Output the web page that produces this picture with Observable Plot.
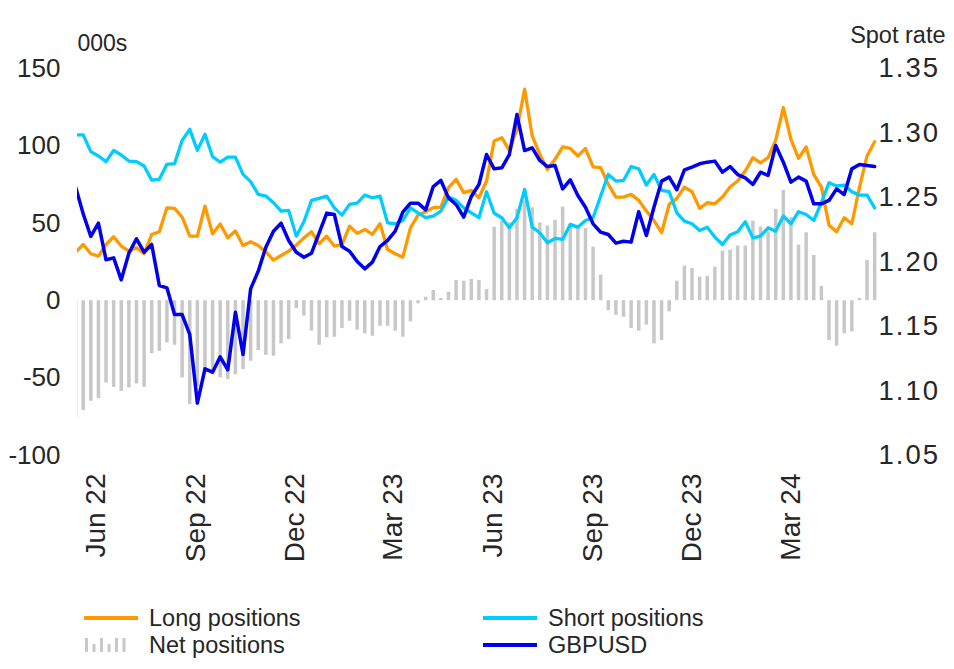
<!DOCTYPE html>
<html>
<head>
<meta charset="utf-8">
<script src="https://cdn.jsdelivr.net/npm/d3@7"></script>
<script src="https://cdn.jsdelivr.net/npm/@observablehq/plot@0.6"></script>
<style>
  body { margin: 0; background: #fff; font-family: "Liberation Sans", Arial, sans-serif; color: #262626; }
  #wrap { position: relative; width: 954px; height: 669px; }
  #legend { position: absolute; left: 0; top: 600px; width: 954px; height: 69px; font-size: 23.5px; }
  .item { position: absolute; display: flex; align-items: center; height: 27px; line-height: 27px; white-space: nowrap; }
  .sw { display: inline-block; width: 54px; height: 3.5px; margin-right: 11px; }
</style>
</head>
<body>
<div id="wrap">
  <div id="chart"></div>
  <div id="legend"></div>
</div>
<script>
// Weekly CFTC-style data; the first entry is a lead-in week that lies left of the frame (clipped)
const firstWeek = "2022-05-13";

// Long positions (000s)
const longPos = [31.2,
  36.3, 30.3, 28.8, 36.3, 41.3, 35.3, 32.0, 34.2, 30.3, 42.8,
  44.5, 60.0, 59.6, 54.0, 41.7, 41.7, 61.1, 43.2, 49.5, 40.6,
  45.0, 35.7, 38.1, 35.7, 31.6, 26.2, 29.2, 32.0, 35.9, 40.6,
  44.5, 36.8, 41.7, 35.3, 36.3, 48.2, 43.5, 46.0, 42.8, 49.7,
  33.1, 30.3, 28.1, 47.1, 55.3, 57.5, 60.1, 60.5, 73.0, 78.4,
  69.8, 71.3, 66.5, 77.3, 103.2, 105.3, 97.1, 110.7, 136.6, 106.4,
  94.5, 84.8, 91.3, 99.3, 98.4, 93.5, 98.4, 86.4, 86.0, 75.1,
  66.9, 66.9, 68.7, 64.8, 57.9, 51.8, 43.9, 62.2, 66.1, 73.4,
  70.4, 59.6, 63.3, 62.6, 67.0, 73.4, 77.3, 83.8, 92.4, 89.1,
  92.4, 103.7, 124.7, 104.2, 92.0, 99.3, 81.6, 73.4, 48.8, 44.5,
  53.6, 49.7, 73.0, 93.5, 102.7];

// Short positions (000s)
const shortPos = [107.1,
  107.1, 96.3, 93.5, 89.8, 97.1, 94.1, 90.2, 89.8, 87.0, 77.9,
  78.4, 88.1, 88.5, 103.6, 110.7, 97.1, 107.5, 93.0, 89.5, 92.8,
  92.8, 81.6, 76.9, 68.7, 67.6, 63.3, 57.9, 58.3, 41.7, 51.0,
  64.8, 66.1, 67.6, 60.0, 55.3, 62.2, 63.0, 68.2, 66.5, 67.6,
  50.3, 49.7, 51.8, 60.0, 56.8, 53.6, 54.7, 57.9, 66.9, 64.8,
  60.0, 56.8, 53.6, 70.4, 56.5, 53.6, 47.1, 53.6, 71.9, 47.5,
  43.9, 37.4, 40.2, 39.6, 49.3, 47.5, 51.8, 53.6, 67.6, 81.6,
  77.3, 77.7, 86.7, 85.2, 74.7, 81.6, 71.3, 70.4, 56.8, 51.4,
  49.7, 45.4, 47.5, 41.1, 36.3, 42.4, 44.5, 51.0, 40.6, 41.7,
  47.1, 44.8, 54.7, 49.7, 57.5, 55.7, 51.8, 63.3, 76.2, 74.1,
  74.7, 70.4, 68.2, 68.2, 60.0];

// Net positions (000s)
const netPos = [-76.0,
  -71.0, -65.0, -63.3, -53.2, -56.0, -58.5, -56.4, -53.8, -56.0, -34.2,
  -32.7, -27.3, -28.8, -49.9, -67.2, -55.4, -46.4, -47.5, -49.9, -51.0,
  -47.8, -44.5, -39.1, -32.2, -35.3, -35.9, -27.9, -25.1, -5.1, -10.0,
  -19.7, -28.8, -24.0, -23.6, -18.0, -13.3, -19.0, -21.4, -23.0, -16.5,
  -16.5, -19.7, -23.6, -13.7, -2.0, 2.3, 6.6, 1.4, 5.5, 13.0,
  12.6, 13.7, 13.0, 7.2, 47.5, 51.4, 50.3, 59.0, 64.5, 60.0,
  50.3, 48.2, 51.9, 60.5, 49.3, 48.2, 46.7, 34.6, 16.5, -6.4,
  -9.4, -10.7, -18.0, -19.7, -15.8, -27.9, -25.7, -7.2, 12.6, 22.3,
  20.8, 15.2, 15.8, 21.7, 32.0, 32.7, 35.3, 35.3, 51.4, 47.5,
  44.5, 59.0, 71.3, 53.6, 35.9, 43.9, 29.2, 9.2, -25.7, -29.4,
  -21.4, -20.1, 1.4, 26.0, 43.9];

// GBPUSD spot rate
const gbpusd = [1.2581,
  1.2373, 1.2198, 1.2301, 1.2017, 1.2032, 1.1862, 1.2068, 1.2180, 1.2076, 1.2136,
  1.1818, 1.1800, 1.1593, 1.1593, 1.1438, 1.0906, 1.1172, 1.1146, 1.1265, 1.1164,
  1.1611, 1.1283, 1.1792, 1.1929, 1.2115, 1.2239, 1.2301, 1.2167, 1.2076, 1.2037,
  1.2068, 1.2224, 1.2379, 1.2368, 1.2120, 1.2084, 1.2004, 1.1947, 1.1999, 1.2120,
  1.2167, 1.2239, 1.2386, 1.2456, 1.2456, 1.2404, 1.2585, 1.2632, 1.2497, 1.2446,
  1.2348, 1.2508, 1.2601, 1.2833, 1.2722, 1.2730, 1.2833, 1.3143, 1.2864, 1.2885,
  1.2787, 1.2740, 1.2748, 1.2567, 1.2637, 1.2516, 1.2425, 1.2296, 1.2231, 1.2213,
  1.2146, 1.2161, 1.2154, 1.2390, 1.2205, 1.2425, 1.2627, 1.2658, 1.2560, 1.2714,
  1.2735, 1.2761, 1.2774, 1.2782, 1.2696, 1.2740, 1.2678, 1.2652, 1.2601, 1.2696,
  1.2671, 1.2903, 1.2774, 1.2619, 1.2658, 1.2627, 1.2451, 1.2451, 1.2477, 1.2567,
  1.2523, 1.2722, 1.2756, 1.2748, 1.2740];

// Axes
const posTicks = [-100, -50, 0, 50, 100, 150];
const rateTicks = [1.05, 1.10, 1.15, 1.20, 1.25, 1.30, 1.35];
const monthTicks = ["2022-06-01", "2022-09-01", "2022-12-01", "2023-03-01", "2023-06-01", "2023-09-01", "2023-12-01", "2024-03-01"];
const monthLabels = ["Jun 22", "Sep 22", "Dec 22", "Mar 23", "Jun 23", "Sep 23", "Dec 23", "Mar 24"];

const posDomain = [-100, 150];
const rateDomain = [1.05, 1.35];
const toPos = r => (r - rateDomain[0]) / (rateDomain[1] - rateDomain[0]) * (posDomain[1] - posDomain[0]) + posDomain[0];
const toRate = p => (p - posDomain[0]) / (posDomain[1] - posDomain[0]) * (rateDomain[1] - rateDomain[0]) + rateDomain[0];

const start = new Date(firstWeek + "T00:00Z");
const rows = longPos.map((v, i) => ({
  date: d3.utcDay.offset(start, 7 * i),
  long: v,
  short: shortPos[i],
  net: netPos[i],
  gbp: toPos(gbpusd[i])
}));

const tickDates = monthTicks.map(s => new Date(s + "T00:00Z"));
const labelOf = new Map(tickDates.map((d, i) => [+d, monthLabels[i]]));

const chart = Plot.plot({
  width: 954,
  height: 600,
  marginLeft: 77,
  marginRight: 77,
  marginTop: 68,
  marginBottom: 145,
  style: { fontFamily: "'Liberation Sans', Arial, sans-serif", color: "#262626", background: "#fff", overflow: "visible" },
  x: { type: "utc", domain: [new Date("2022-05-14T18:00Z"), new Date("2024-05-19T15:00Z")] },
  y: { domain: posDomain },
  marks: [
    Plot.ruleX(rows, { x: "date", y1: 0, y2: "net", stroke: "#c8c8c8", strokeWidth: 3.5, clip: true }),
    Plot.lineY(rows, { x: "date", y: "long", stroke: "#ff9900", strokeWidth: 3.3, clip: true }),
    Plot.lineY(rows, { x: "date", y: "short", stroke: "#00ccff", strokeWidth: 3.3, clip: true }),
    Plot.lineY(rows, { x: "date", y: "gbp", stroke: "#0000ee", strokeWidth: 3.5, clip: true }),
    Plot.axisY({ ticks: posTicks, tickFormat: d => String(d), tickSize: 0, tickPadding: 17, fontSize: 26, label: null }),
    Plot.axisY({ anchor: "right", ticks: rateTicks.map(toPos), tickFormat: p => toRate(p).toFixed(2), tickSize: 0, tickPadding: 1, fontSize: 27.5, label: null }),
    Plot.axisX({ ticks: tickDates, tickFormat: d => labelOf.get(+d), tickRotate: -90, tickSize: 0, tickPadding: 18, fontSize: 28, label: null }),
    Plot.text(["000s"], { frameAnchor: "top-left", textAnchor: "start", lineAnchor: "bottom", dy: -18, fontSize: 23 }),
    Plot.text(["Spot rate"], { frameAnchor: "top-right", textAnchor: "end", lineAnchor: "bottom", dx: 68, dy: -26, fontSize: 23.5 })
  ]
});
// slightly widen the right-hand (spot rate) tick labels, as in the reference
const yLabelGroups = chart.querySelectorAll('g[aria-label="y-axis tick label"]');
if (yLabelGroups.length > 1) yLabelGroups[1].setAttribute("letter-spacing", "2px");
document.getElementById("chart").appendChild(chart);

// Legend below the SVG
const legendItems = [
  { label: "Long positions", color: "#ff9900", kind: "line", left: 84, top: 4.5 },
  { label: "Net positions", color: "#c8c8c8", kind: "bars", left: 84, top: 31.5 },
  { label: "Short positions", color: "#00ccff", kind: "line", left: 483, top: 4.5 },
  { label: "GBPUSD", color: "#0000ee", kind: "line", left: 483, top: 31.5 }
];
const legend = document.getElementById("legend");
for (const it of legendItems) {
  const div = document.createElement("div");
  div.className = "item";
  div.style.left = it.left + "px";
  div.style.top = it.top + "px";
  if (it.kind === "line") {
    const s = document.createElement("span");
    s.className = "sw";
    s.style.background = it.color;
    div.appendChild(s);
  } else {
    const ns = "http://www.w3.org/2000/svg";
    const svg = document.createElementNS(ns, "svg");
    svg.setAttribute("width", 54);
    svg.setAttribute("height", 16);
    svg.style.marginRight = "11px";
    const hs = [14, 8, 14, 8, 14, 14];
    hs.forEach((h, k) => {
      const r = document.createElementNS(ns, "rect");
      r.setAttribute("x", 1 + k * 7.5);
      r.setAttribute("y", 15 - h);
      r.setAttribute("width", 3);
      r.setAttribute("height", h);
      r.setAttribute("fill", it.color);
      svg.appendChild(r);
    });
    div.appendChild(svg);
  }
  const t = document.createElement("span");
  t.textContent = it.label;
  div.appendChild(t);
  legend.appendChild(div);
}
</script>
</body>
</html>
